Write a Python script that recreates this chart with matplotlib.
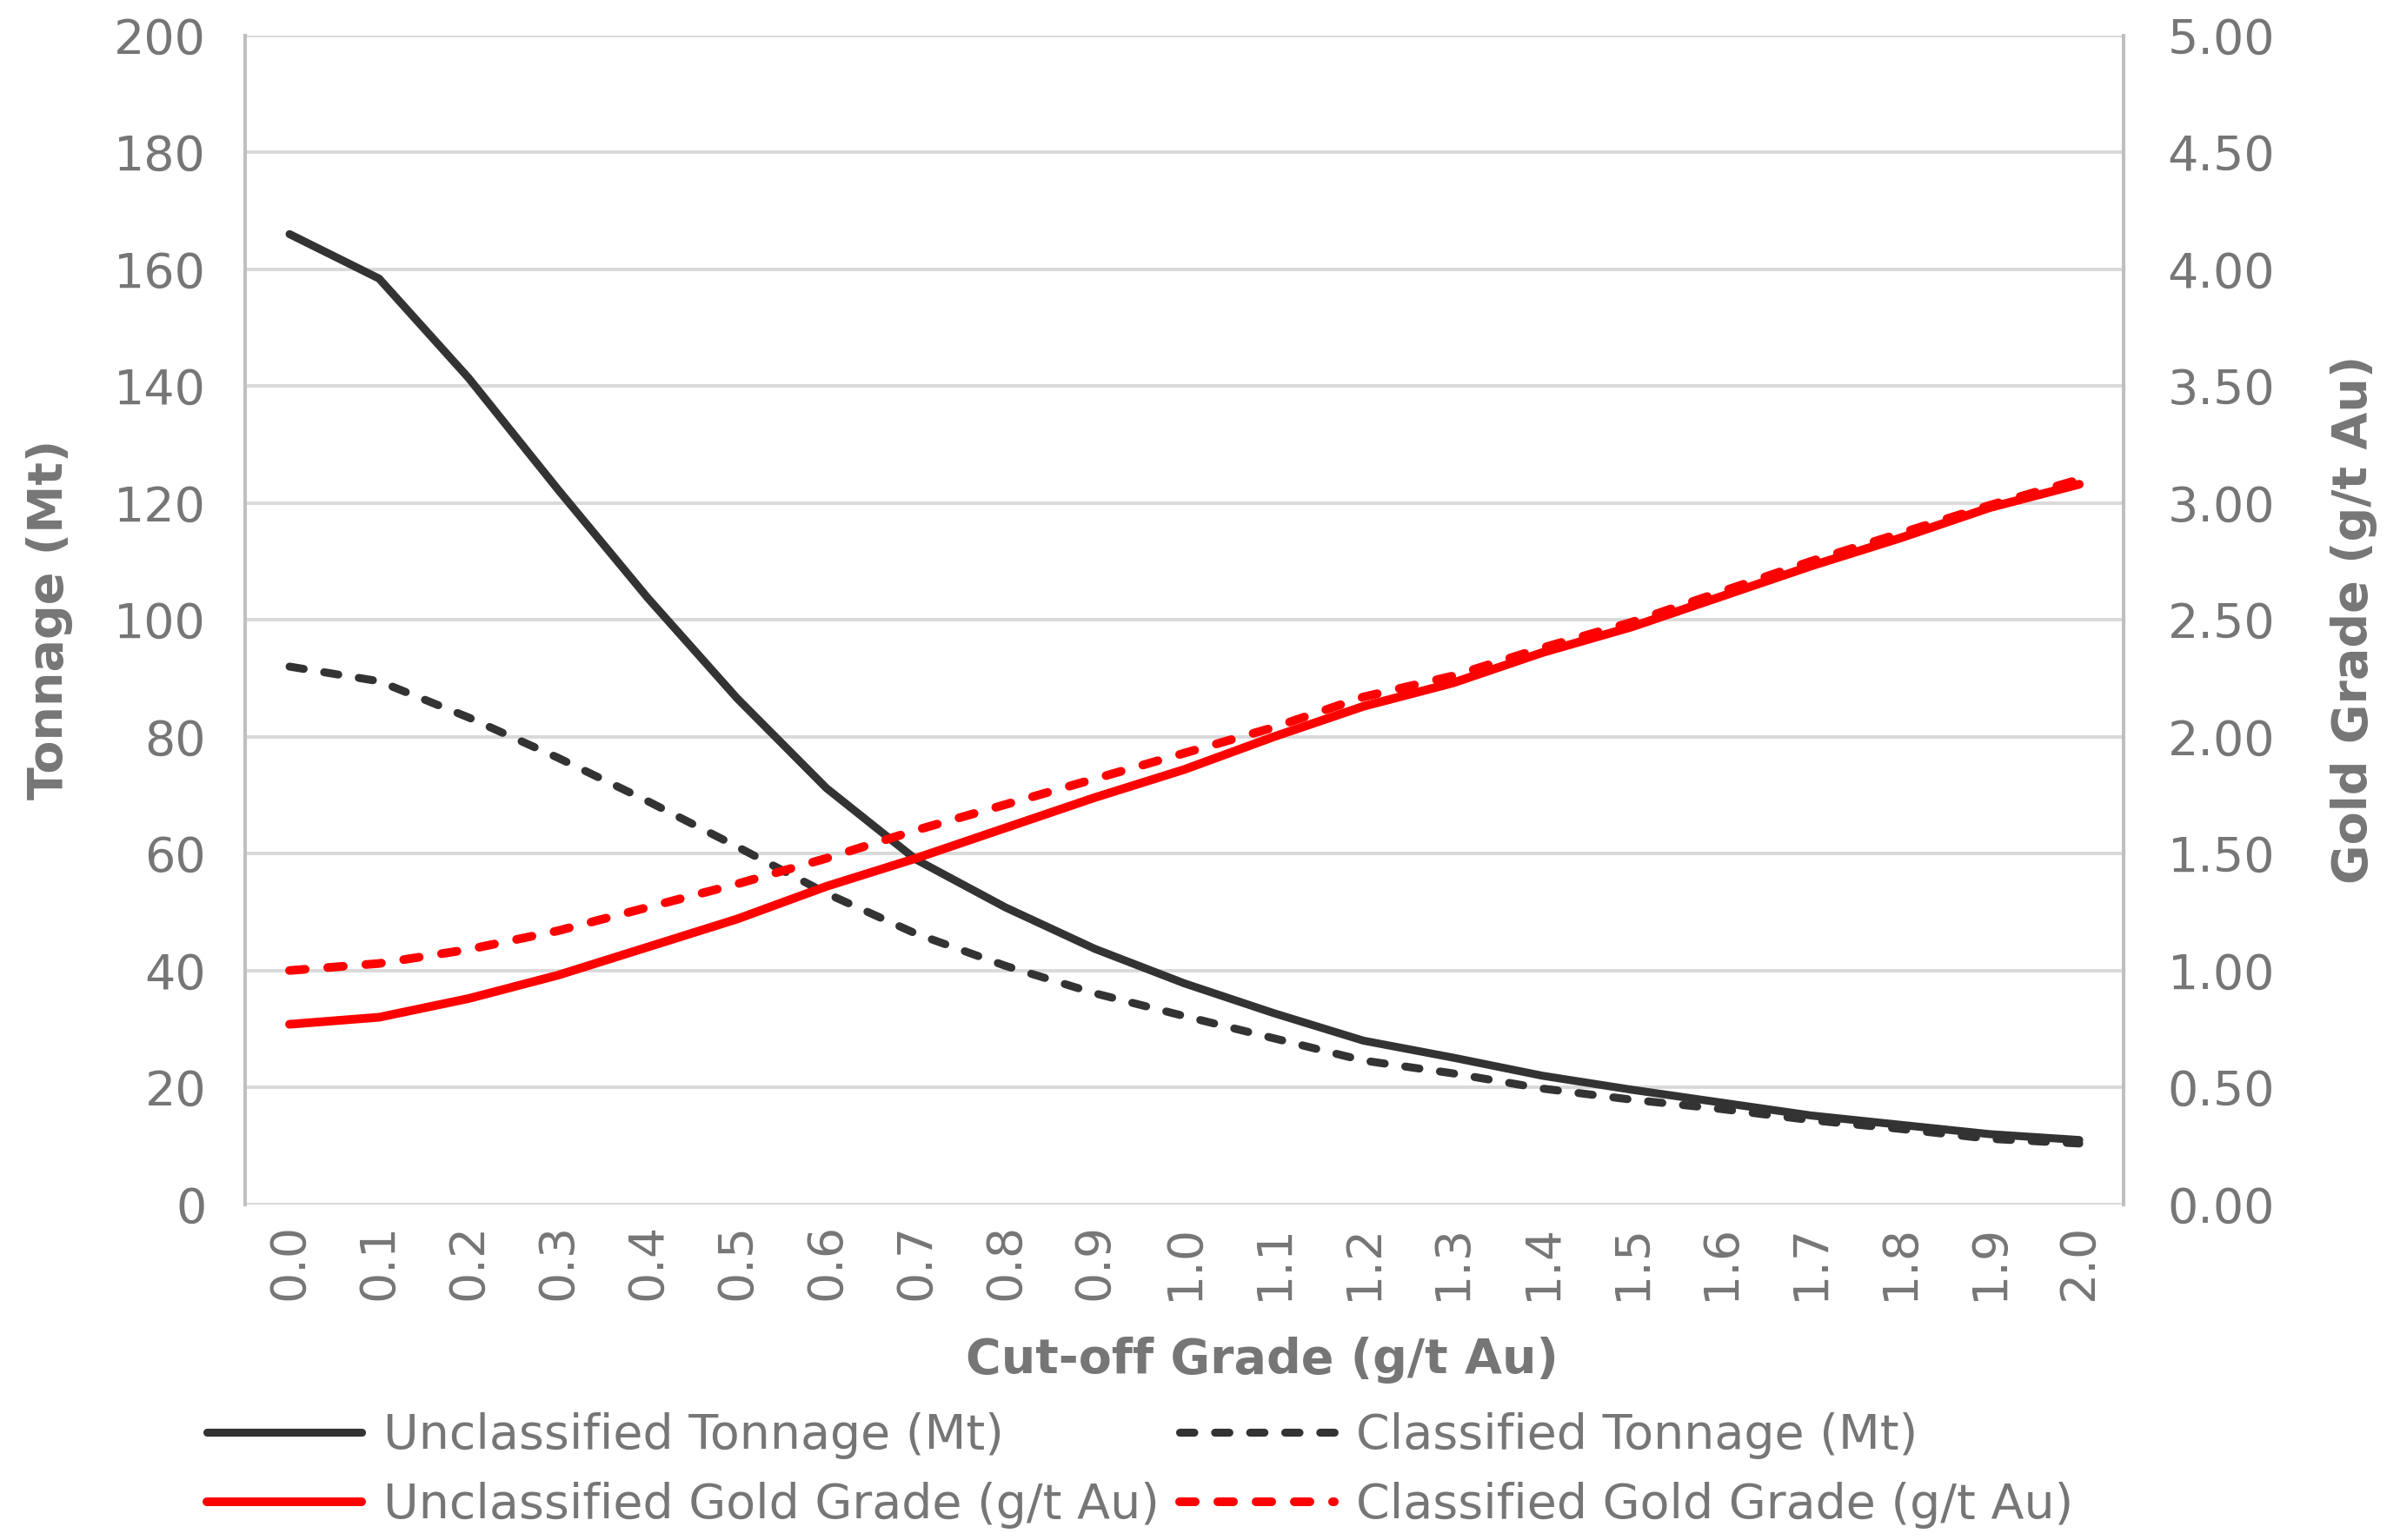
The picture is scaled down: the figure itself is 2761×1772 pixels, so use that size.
import numpy as np
import matplotlib
matplotlib.use("Agg")
import matplotlib.pyplot as plt

plt.rcParams.update({"font.family": "DejaVu Sans"})
plt.rcParams.update({"font.size": 20})

# cut-off grade categories (g/t Au)
cutoffs = ["0.0", "0.1", "0.2", "0.3", "0.4", "0.5", "0.6", "0.7", "0.8", "0.9", "1.0",
           "1.1", "1.2", "1.3", "1.4", "1.5", "1.6", "1.7", "1.8", "1.9", "2.0"]

unclass_tonnage = [166, 158.4, 141.4, 122.3, 103.8, 86.6, 71.2, 59.0, 50.8, 43.7, 37.8,
                   32.7, 28.0, 25.1, 22.0, 19.6, 17.4, 15.2, 13.6, 12.0, 11.0]
class_tonnage = [92.0, 89.5, 83.3, 76.4, 69.0, 61.2, 53.2, 46.3, 40.8, 36.1, 32.2,
                 28.4, 24.6, 22.4, 19.8, 17.9, 16.3, 14.4, 12.9, 11.2, 10.4]
unclass_grade = [0.77, 0.80, 0.88, 0.98, 1.10, 1.22, 1.36, 1.48, 1.61, 1.74, 1.86,
                 2.00, 2.13, 2.23, 2.36, 2.47, 2.60, 2.73, 2.85, 2.98, 3.08]
class_grade = [1.00, 1.03, 1.09, 1.17, 1.27, 1.37, 1.48, 1.60, 1.71, 1.82, 1.93,
               2.04, 2.17, 2.26, 2.38, 2.49, 2.62, 2.75, 2.87, 2.99, 3.10]

txt = "#767676"
grid = "#d9d9d9"
spine = "#bfbfbf"
dark = "#333333"
red = "#ff0000"

fig = plt.figure(figsize=(13.805, 8.86), dpi=200)
ax = fig.add_axes([0.102, 0.218, 0.783, 0.759])
ax2 = ax.twinx()

x = np.arange(len(cutoffs))
dash = (1.8, 2.6)

l1, = ax.plot(x, unclass_tonnage, color=dark, lw=3.3, solid_capstyle="round",
              solid_joinstyle="round", label="Unclassified Tonnage (Mt)", zorder=3)
l2, = ax.plot(x, class_tonnage, color=dark, lw=3.3, dashes=dash, dash_capstyle="round",
              label="Classified Tonnage (Mt)", zorder=3)
l3, = ax2.plot(x, unclass_grade, color=red, lw=3.6, solid_capstyle="round",
               solid_joinstyle="round", label="Unclassified Gold Grade (g/t Au)", zorder=3)
l4, = ax2.plot(x, class_grade, color=red, lw=3.6, dashes=dash, dash_capstyle="round",
               label="Classified Gold Grade (g/t Au)", zorder=3)

ax.set_xlim(-0.5, len(cutoffs) - 0.5)
ax.set_ylim(0, 200)
ax.set_yticks(np.arange(0, 201, 20))
ax2.set_ylim(0, 5)
ax2.set_yticks(np.arange(0, 5.01, 0.5))
ax2.set_yticklabels(["%.2f" % v for v in np.arange(0, 5.01, 0.5)])

ax.set_xticks(x)
ax.set_xticklabels(cutoffs, rotation=90)

ax.yaxis.grid(True, color=grid, lw=1.4)
ax.set_axisbelow(True)
for a in (ax, ax2):
    a.tick_params(axis="both", length=0, colors=txt, labelsize=20)
    a.spines["top"].set_visible(False)
    a.spines["bottom"].set_visible(False)
    a.spines["left"].set_color(spine)
    a.spines["right"].set_color(spine)
    a.spines["left"].set_linewidth(1.4)
    a.spines["right"].set_linewidth(1.4)
ax.tick_params(axis="y", pad=16)
ax2.tick_params(axis="y", pad=18)
ax.tick_params(axis="x", pad=8)

ax.set_xlabel("Cut-off Grade (g/t Au)", color=txt, fontweight="bold")
ax.xaxis.set_label_coords(0.5415, -0.113)
ax.set_ylabel("Tonnage (Mt)", color=txt, fontweight="bold", labelpad=17)
ax2.set_ylabel("Gold Grade (g/t Au)", color=txt, fontweight="bold", labelpad=23)

leg = fig.legend(handles=[l1, l3, l2, l4], ncol=2, loc="lower left",
                 bbox_to_anchor=(0.068, -0.021), frameon=False, handlelength=3.2,
                 handletextpad=0.45, columnspacing=0.42, labelspacing=0.47,
                 fontsize=20)
for t in leg.get_texts():
    t.set_color(txt)

fig.savefig("out.png", dpi=200)
